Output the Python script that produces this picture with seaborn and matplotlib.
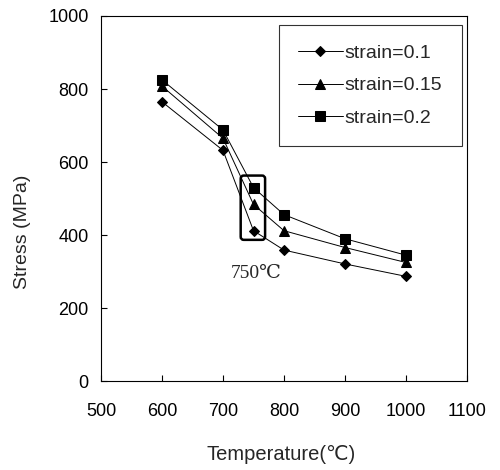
import matplotlib
matplotlib.use('Agg')
import matplotlib.pyplot as plt
import pandas as pd
import seaborn as sns
from matplotlib.patches import FancyBboxPatch

temperatura = [600, 700, 750, 800, 900, 1000]
strain_01 = [765, 632, 412, 359, 321, 287]
strain_015 = [808, 665, 484, 412, 366, 325]
strain_02 = [825, 688, 530, 456, 390, 345]
rotulos = ['strain=0.1', 'strain=0.15', 'strain=0.2']

df = pd.DataFrame({
    'Temperature': temperatura * 3,
    'Stress': strain_01 + strain_015 + strain_02,
    'serie': [r for r in rotulos for _ in temperatura],
})

sns.set_style('ticks')
plt.rcParams['font.family'] = ['Liberation Sans', 'DejaVu Sans']

fig = plt.figure(figsize=(5, 4.7), dpi=100)
ax = fig.add_axes([0.202, 0.189, 0.732, 0.777])

sns.lineplot(data=df, x='Temperature', y='Stress', hue='serie', style='serie',
             markers=['D', '^', 's'], dashes=False, palette=['black'] * 3,
             markersize=7, linewidth=0.7, markeredgecolor='black', ax=ax)
ax.lines[0].set_markersize(5.5)

ax.set_xlim(500, 1100)
ax.set_ylim(0, 1000)
ax.set_xticks(range(500, 1101, 100))
ax.set_yticks(range(0, 1001, 200))
ax.tick_params(direction='in', length=4, width=0.8, labelsize=13,
               colors='black')
ax.tick_params(axis='x', pad=16)
ax.tick_params(axis='y', pad=9)
for s in ax.spines.values():
    s.set_linewidth(0.8)
    s.set_color('black')

ax.set_xlabel('Temperature(℃)', fontsize=14.5)
ax.set_ylabel('Stress (MPa)', fontsize=14)
ax.xaxis.set_label_coords(0.493, -0.176)
ax.yaxis.set_label_coords(-0.19, 0.41)

# caixa arredondada em volta dos pontos de 750 graus
caixa = FancyBboxPatch((729, 387), 40, 176, boxstyle='round,pad=0,rounding_size=5',
                       fill=False, edgecolor='black', linewidth=1.8,
                       mutation_aspect=1.67)
ax.add_patch(caixa)
ax.text(755, 296, '750℃', ha='center', va='center', fontsize=14,
        family=['Liberation Serif', 'DejaVu Serif'])

leg = ax.legend(loc='upper right', bbox_to_anchor=(0.9855, 0.975), fontsize=14,
                frameon=True, fancybox=False, edgecolor='black',
                handlelength=2.3, labelspacing=0.75, borderpad=1.0,
                handletextpad=0.1, borderaxespad=0)
leg.get_frame().set_linewidth(0.8)
leg.legend_handles[0].set_markersize(5.5)

plt.savefig('out.png', dpi=100)
